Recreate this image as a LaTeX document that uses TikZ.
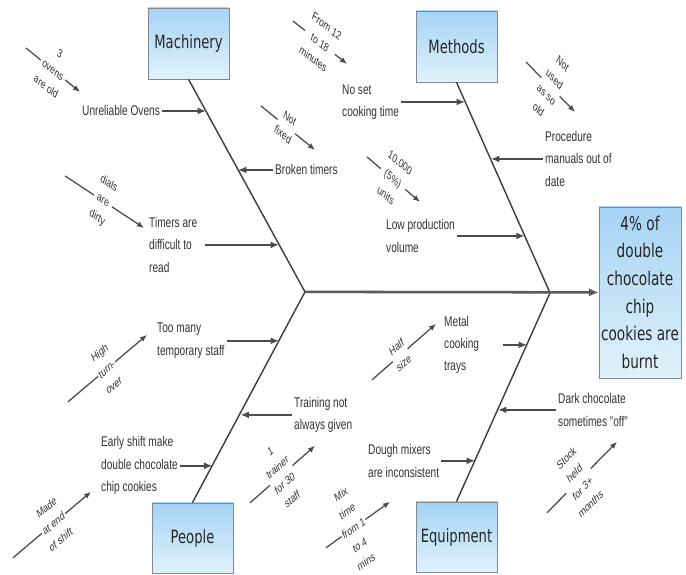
\documentclass[tikz,border=0pt]{standalone}
\usepackage{fontspec}
\setmainfont{Liberation Sans}
\newfontfamily\boxfont{DejaVu Sans}
\usepackage{xcolor}
\usepackage{tikz}
\usetikzlibrary{positioning,arrows.meta}
\definecolor{BoxTop}{RGB}{166,211,245}
\definecolor{BoxBottom}{RGB}{224,242,251}
\definecolor{BoxLine}{RGB}{128,138,148}
\definecolor{BoneGray}{RGB}{60,60,60}

\begin{document}
\begin{tikzpicture}[
        % don vi = 1px cua hinh goc, hinh bi nen ngang 0.72
        x=0.0347222cm, y=-0.025cm, xscale=0.72, transform shape,
        % Style cho cac hop nguyen nhan chinh
        causebox/.style={
            draw=BoxLine,
            top color=BoxTop,
            bottom color=BoxBottom,
            minimum width=2.8125cm,
            minimum height=1.775cm,
            inner sep=1pt,
            text=black!85,
            font=\boxfont\fontsize{13}{16}\selectfont
        },
        % Style cho hop ket qua (ben phai)
        effectbox/.style={
            causebox,
            minimum width=2.85cm,
            minimum height=4.275cm,
            align=center,
            font=\boxfont\fontsize{13.5}{19.7}\selectfont
        },
        % Style cho xuong ca
        bone/.style={draw=BoneGray, line width=1pt},
        spine/.style={draw=black!65, line width=1.8pt, -{Latex[length=7pt,width=6pt]}},
        % Style cho mui ten nguyen nhan
        causearrow/.style={draw=black!70, line width=1.2pt, -{Latex[length=6pt,width=5pt]}},
        subarrow/.style={draw=black!70, line width=0.9pt, -{Latex[length=5pt,width=4pt]}},
        % Style cho chu
        causetext/.style={
            anchor=west, align=left, inner sep=2pt, text=black!80,
            font=\fontsize{10}{16}\selectfont
        },
        subtext/.style={
            fill=white, align=center, inner sep=1pt, text=black!80,
            font=\fontsize{8.5}{13.5}\selectfont
        }
    ]

        \useasboundingbox[fill=white] (0,0) rectangle (686,575);

        % --- 1. CAC HOP ---
        \node[causebox] (mach) at (188.5, 43.5) {Machinery};
        \node[causebox] (meth) at (456.5, 46.5) {Methods};
        \node[causebox] (ppl) at (192.5, 538.5) {People};
        \node[causebox] (equip) at (456.5, 537.5) {Equipment};
        \node[effectbox] (effect) at (640, 292.5) {4\% of\\double\\chocolate\\chip\\cookies are\\burnt};

        % --- 2. XUONG CA ---
        \coordinate (lv) at (305, 292);
        \coordinate (rv) at (550, 293);

        \draw[bone] (mach.south) -- (lv);
        \draw[bone] (ppl.north) -- (lv);
        \draw[bone] (meth.south) -- (rv);
        \draw[bone] (equip.north) -- (rv);
        \draw[spine] (lv) -- (effect.west);

        % --- 3. NGUYEN NHAN (CHU) ---
        \node[causetext] (c1) at (80, 111) {Unreliable Ovens};
        \node[causetext] (c2) at (273, 170) {Broken timers};
        \node[causetext] (c3) at (147, 245) {Timers are\\difficult to\\read};
        \node[causetext] (c4) at (340, 102) {No set\\cooking time};
        \node[causetext] (c5) at (543, 159) {Procedure\\manuals out of\\date};
        \node[causetext] (c6) at (384, 236) {Low production\\volume};
        \node[causetext] (c7) at (155, 341) {Too many\\temporary staff};
        \node[causetext] (c8) at (292, 415) {Training not\\always given};
        \node[causetext] (c9) at (99, 466) {Early shift make\\double chocolate\\chip cookies};
        \node[causetext] (c10) at (442, 345) {Metal\\cooking\\trays};
        \node[causetext] (c11) at (556, 410) {Dark chocolate\\sometimes "off"};
        \node[causetext] (c12) at (366, 461) {Dough mixers\\are inconsistent};

        % diem cham tren xuong
        \coordinate (t1) at (206, 111);
        \coordinate (t2) at (238, 170);
        \coordinate (t3) at (279, 245);
        \coordinate (t4) at (465, 102);
        \coordinate (t5) at (491, 159);
        \coordinate (t6) at (524.7, 236);
        \coordinate (t7) at (279, 341);
        \coordinate (t8) at (240.5, 415);
        \coordinate (t9) at (212.5, 466);
        \coordinate (t10) at (527, 345);
        \coordinate (t11) at (498, 410);
        \coordinate (t12) at (475, 461);

        \draw[causearrow] (c1) -- (t1);
        \draw[causearrow] (c2) -- (t2);
        \draw[causearrow, shorten <=4pt] (c3) -- (t3);
        \draw[causearrow] (c4) -- (t4);
        \draw[causearrow] (c5) -- (t5);
        \draw[causearrow] (c6) -- (t6);
        \draw[causearrow] (c7) -- (t7);
        \draw[causearrow] (c8) -- (t8);
        \draw[causearrow] (c9) -- (t9);
        \draw[causearrow, shorten <=0.55cm] (c10) -- (t10);
        \draw[causearrow] (c11) -- (t11);
        \draw[causearrow] (c12) -- (t12);

        % --- 4. NGUYEN NHAN PHU (MUI TEN XIEN) ---
        \coordinate (s1a) at (26, 48);    \coordinate (s1b) at (80, 92);
        \coordinate (s2a) at (261, 106);  \coordinate (s2b) at (315, 150);
        \coordinate (s3a) at (65, 176);   \coordinate (s3b) at (144, 228);
        \coordinate (s4a) at (293, 21);   \coordinate (s4b) at (347, 64);
        \coordinate (s5a) at (526, 62);   \coordinate (s5b) at (575, 112);
        \coordinate (s6a) at (367, 157);  \coordinate (s6b) at (420, 202);
        \coordinate (s7a) at (68, 402);   \coordinate (s7b) at (147, 335);
        \coordinate (s8a) at (250, 503);  \coordinate (s8b) at (315, 446);
        \coordinate (s9a) at (13, 558);   \coordinate (s9b) at (91, 492);
        \coordinate (s10a) at (372, 380); \coordinate (s10b) at (436, 324);
        \coordinate (s11a) at (547, 513); \coordinate (s11b) at (617, 442);
        \coordinate (s12a) at (326, 548); \coordinate (s12b) at (390, 502);

        \draw[subarrow] (s1a) -- node[subtext, rotate=-30.4] (d1) {3\\ovens\\are old} (s1b);
        \draw[subarrow] (s2a) -- node[subtext, pos=0.47, rotate=-30.4] (d2) {Not\\fixed} (s2b);
        \draw[subarrow] (s3a) -- node[subtext, pos=0.48, rotate=-25.4] (d3) {dials\\are\\dirty} (s3b);
        \draw[subarrow] (s4a) -- node[subtext, rotate=-29.8] (d4) {From 12\\to 18\\minutes} (s4b);
        \draw[subarrow] (s5a) -- node[subtext, rotate=-36.3] (d5) {Not\\used\\as so\\old} (s5b);
        \draw[subarrow] (s6a) -- node[subtext, pos=0.49, rotate=-31.4] (d6) {10,000\\(5\%)\\units} (s6b);
        \draw[subarrow] (s7a) -- node[subtext, pos=0.49, rotate=31.4] (d7) {High\\turn-\\over} (s7b);
        \draw[subarrow] (s8a) -- node[subtext, pos=0.48, rotate=32.3] (d8) {1\\trainer\\for 30\\staff} (s8b);
        \draw[subarrow] (s9a) -- node[subtext, pos=0.52, rotate=31.4] (d9) {Made\\at end\\of shift} (s9b);
        \draw[subarrow] (s10a) -- node[subtext, pos=0.44, rotate=32.2] (d10) {Half\\size} (s10b);
        \draw[subarrow] (s11a) -- node[subtext, pos=0.45, rotate=36.1] (d11) {Stock\\held\\for 3+\\months} (s11b);
        \draw[subarrow] (s12a) -- node[subtext, pos=0.43, rotate=27.4] (d12) {Mix\\time\\from 1\\to 4\\mins} (s12b);

    \end{tikzpicture}
\end{document}
